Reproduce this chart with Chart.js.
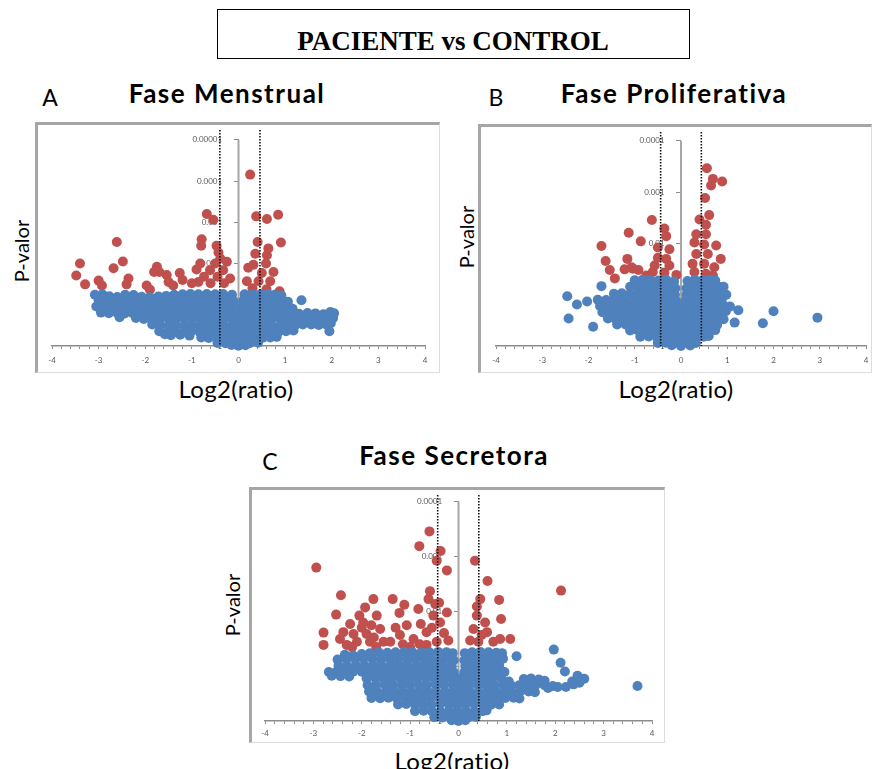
<!DOCTYPE html>
<html>
<head>
<meta charset="utf-8">
<script src="https://cdn.jsdelivr.net/npm/chart.js@4.4.1/dist/chart.umd.min.js"></script>
<style>
  html, body { margin: 0; padding: 0; background: #fff; }
  body { position: relative; width: 872px; height: 769px; overflow: hidden; font-family: Lato, "Open Sans", sans-serif; color: #000; }
  .abs { position: absolute; white-space: nowrap; line-height: 1; transform: translate(-50%, -50%); }
  .box { position: absolute; left: 217px; top: 9px; width: 471px; height: 48px; border: 1.5px solid #000; }
  .header { font: bold 27px "Liberation Serif", serif; }
  .frame { position: absolute; box-sizing: border-box; border-top: 3px solid #a6a6a6; border-left: 3px solid #a6a6a6; border-right: 1px solid #dcdcdc; border-bottom: 1px solid #dcdcdc; }
  .letter { font-size: 23px; }
  .title { font-size: 26px; font-weight: bold; letter-spacing: 1.5px; }
  .ylab { font-size: 20px; transform: translate(-50%, -50%) rotate(-90deg); }
  .xlab { font-size: 24px; letter-spacing: 0.3px; }
  canvas { position: absolute; }
</style>
</head>
<body>
<div class="box"></div>
<div class="abs header" style="left:453px;top:41px">PACIENTE vs CONTROL</div>

<div class="abs letter" style="left:50px;top:97px">A</div>
<div class="abs title" style="left:227px;top:93px">Fase Menstrual</div>
<div class="frame" style="left:35px;top:122px;width:405px;height:251px"></div>
<canvas id="menstrual" width="401" height="247" style="left:38px;top:125px"></canvas>
<div class="abs ylab" style="left:21px;top:251px">P-valor</div>
<div class="abs xlab" style="left:236px;top:389px">Log2(ratio)</div>

<div class="abs letter" style="left:496px;top:97px">B</div>
<div class="abs title" style="left:674px;top:93px">Fase Proliferativa</div>
<div class="frame" style="left:478px;top:124px;width:394px;height:249px"></div>
<canvas id="proliferativa" width="390" height="245" style="left:481px;top:127px"></canvas>
<div class="abs ylab" style="left:466px;top:237px">P-valor</div>
<div class="abs xlab" style="left:676px;top:389px">Log2(ratio)</div>

<div class="abs letter" style="left:270px;top:461px">C</div>
<div class="abs title" style="left:454px;top:455px">Fase Secretora</div>
<div class="frame" style="left:249px;top:487px;width:416px;height:256px"></div>
<canvas id="secretora" width="412" height="252" style="left:252px;top:490px"></canvas>
<div class="abs ylab" style="left:232px;top:605px">P-valor</div>
<div class="abs xlab" style="left:452px;top:761px">Log2(ratio)</div>

<script>
// x axis: log2 fold change, minor ticks every 0.2
const xRange = [-4, 4];
const xStep = 0.2;

// y axis: p-values on a reversed log axis
const menstrualTicks = [0.00001, 0.0001, 0.001, 0.01, 0.1, 1];
const menstrualTickLabels = ['0.00001', '0.0001', '0.001', '0.01', '0.1', '1'];
const proliferativaTicks = [0.0001, 0.001, 0.01, 0.1, 1];
const proliferativaTickLabels = ['0.0001', '0.001', '0.01', '0.1', '1'];
const secretoraTicks = [0.0001, 0.001, 0.01, 0.1, 1];
const secretoraTickLabels = ['0.0001', '0.001', '0.01', '0.1', '1'];

// fold-change cutoffs (dotted lines)
const menstrualCutoffs = [-0.4, 0.46];
const proliferativaCutoffs = [-0.44, 0.44];
const secretoraCutoffs = [-0.43, 0.42];

// [log2 ratio, p-value] — significant proteins (p < 0.05)
const menstrualRed = [
  [0.25,0.00007],[-0.68,0.00063],[-0.54,0.00087],[0.38,0.00072],[0.61,0.00083],[0.85,0.00066],
  [-0.79,0.0026],[-0.8,0.0037],[-0.47,0.0037],[-0.43,0.0054],[-0.39,0.0076],[0.41,0.003],[0.91,0.0031],
  [0.64,0.0043],[0.36,0.0058],[0.61,0.0063],
  [-0.82,0.01],[-0.5,0.01],[-0.25,0.0091],[-0.9,0.014],[-0.61,0.0145],[-0.33,0.0145],[-0.74,0.021],
  [-0.45,0.021],[-0.18,0.023],[-0.86,0.028],[-0.6,0.03],[-0.31,0.03],
  [0.32,0.0107],[0.59,0.01],[0.21,0.0126],[0.5,0.017],[0.75,0.016],[0.18,0.027],[0.43,0.027],
  [0.68,0.027],[0.88,0.047],[0.3,0.04],[0.6,0.042],
  [-2.61,0.003],[-3.4,0.01],[-2.48,0.0089],[-2.68,0.013],[-3.48,0.0195],[-3.29,0.032],[-3.0,0.026],
  [-2.93,0.034],[-2.36,0.023],[-2.4,0.032],
  [-1.75,0.012],[-1.7,0.016],[-1.81,0.016],[-1.54,0.019],[-1.5,0.028],[-1.97,0.034],[-1.9,0.043],
  [-1.26,0.017],[-1.2,0.025],[-1.0,0.03],[-1.4,0.034]
];

const menstrualBlue = [
  [-3.08,0.057],[-2.92,0.056],[-2.77,0.062],[-2.6,0.065],[-2.43,0.057],[-2.25,0.058],[-2.08,0.064],
  [-1.9,0.066],[-1.72,0.063],[-1.55,0.061],[-1.38,0.057],[-1.2,0.056],[-1.03,0.055],[-0.86,0.056],
  [-0.68,0.055],[-0.5,0.056],[-0.33,0.055],[-0.14,0.057],[0.13,0.056],[0.3,0.055],[0.47,0.056],
  [0.63,0.055],[0.78,0.057],[0.92,0.06],
  [-3.0,0.078],[-2.84,0.08],[-2.66,0.079],[-2.5,0.082],[-2.32,0.078],[-2.15,0.08],[-1.98,0.083],
  [-1.8,0.079],[-1.64,0.08],[-1.47,0.078],[-1.3,0.08],[-1.12,0.079],[-0.95,0.077],[-0.78,0.08],
  [-0.6,0.079],[-0.43,0.078],[-0.26,0.08],[-0.1,0.082],[0.1,0.08],[0.22,0.079],[0.4,0.078],
  [0.57,0.08],[0.74,0.079],[0.9,0.081],[1.06,0.085],[1.35,0.078],
  [-3.05,0.11],[-2.88,0.112],[-2.72,0.108],[-2.55,0.11],[-2.38,0.113],[-2.2,0.11],[-2.04,0.108],
  [-1.87,0.112],[-1.7,0.11],[-1.52,0.109],[-1.36,0.112],[-1.18,0.11],[-1.02,0.108],[-0.85,0.11],
  [-0.68,0.112],[-0.5,0.11],[-0.34,0.109],[-0.17,0.112],[0.03,0.12],[0.2,0.11],[0.36,0.108],
  [0.53,0.11],[0.7,0.112],[0.87,0.11],[1.03,0.114],[1.16,0.125],
  [-2.95,0.155],[-2.78,0.16],[-2.6,0.158],[-2.44,0.162],[-2.27,0.16],[-2.1,0.157],[-1.93,0.16],
  [-1.76,0.163],[-1.58,0.16],[-1.42,0.158],[-1.24,0.16],[-1.07,0.162],[-0.9,0.16],[-0.73,0.158],
  [-0.56,0.16],[-0.39,0.162],[-0.22,0.16],[-0.05,0.158],[0.12,0.16],[0.3,0.162],[0.46,0.16],
  [0.64,0.158],[0.8,0.16],[0.97,0.163],[1.14,0.16],[1.3,0.165],[1.48,0.158],[1.65,0.162],
  [1.82,0.17],[1.97,0.15],[2.05,0.16],
  [-2.55,0.2],[-2.2,0.21],[-2.03,0.22],[-1.85,0.218],[-1.68,0.222],[-1.5,0.22],[-1.33,0.218],
  [-1.16,0.22],[-0.98,0.223],[-0.8,0.22],[-0.63,0.218],[-0.46,0.22],[-0.3,0.222],[-0.12,0.22],
  [0.05,0.218],[0.22,0.22],[0.38,0.223],[0.56,0.22],[0.72,0.218],[0.9,0.22],[1.06,0.23],
  [1.24,0.24],[1.4,0.23],[1.58,0.22],[1.75,0.225],[1.92,0.22],[2.03,0.21],
  [-1.85,0.3],[-1.68,0.31],[-1.5,0.32],[-1.34,0.315],[-1.16,0.32],[-1.0,0.318],[-0.82,0.32],
  [-0.65,0.315],[-0.48,0.32],[-0.32,0.322],[-0.14,0.318],[0.03,0.32],[0.2,0.315],[0.37,0.32],
  [0.54,0.322],[0.7,0.318],[0.88,0.32],[1.04,0.33],[1.22,0.31],[1.38,0.3],[1.56,0.3],[1.72,0.31],
  [1.88,0.3],[1.98,0.28],
  [-1.7,0.44],[-1.52,0.45],[-1.36,0.46],[-1.18,0.45],[-1.02,0.44],[-0.84,0.45],[-0.67,0.455],
  [-0.5,0.45],[-0.33,0.44],[-0.16,0.45],[0.01,0.455],[0.18,0.45],[0.35,0.44],[0.52,0.45],
  [0.68,0.455],[0.86,0.45],[1.02,0.44],[1.18,0.42],[1.95,0.44],
  [-1.58,0.52],[-1.45,0.55],[-1.25,0.53],[-1.05,0.56],[-0.8,0.62],[-0.64,0.64],[-0.48,0.63],
  [-0.3,0.62],[-0.14,0.64],[0.04,0.63],[0.2,0.62],[0.36,0.64],[0.52,0.63],[0.68,0.62],[0.82,0.6],
  [-0.45,0.85],[-0.28,0.86],[-0.1,0.84],[0.08,0.86],[0.25,0.85],[0.42,0.83],
  [-0.15,0.95],[0.0,0.99],[0.15,0.96]
];

const proliferativaRed = [
  [0.56,0.00034],[0.69,0.00055],[0.89,0.00062],[0.65,0.00074],[0.52,0.0013],[0.4,0.0034],
  [0.61,0.0028],[0.54,0.0043],
  [-0.63,0.0035],[-0.36,0.0051],[-0.32,0.0072],[-1.13,0.0062],[-0.87,0.0091],[-1.72,0.0112],
  [-1.63,0.022],[-1.54,0.033],[-1.43,0.048],[-1.16,0.02],[-1.07,0.029],[-0.92,0.033],
  [-1.22,0.032],[-1.04,0.031],
  [-0.5,0.012],[-0.25,0.013],[-0.5,0.019],[-0.32,0.02],[-0.57,0.027],[-0.25,0.027],[-0.61,0.036],
  [-0.36,0.037],[-0.1,0.041],[-0.75,0.042],
  [0.33,0.0066],[0.54,0.0066],[0.29,0.0096],[0.5,0.0105],[0.76,0.011],[0.33,0.016],[0.58,0.016],
  [0.86,0.02],[0.25,0.025],[0.5,0.025],[0.72,0.029],[0.29,0.036],[0.54,0.039],[0.69,0.042]
];

const proliferativaBlue = [
  [-1.0,0.052],[-0.83,0.051],[-0.66,0.052],[-0.49,0.053],[-0.32,0.051],[-0.15,0.055],[0.14,0.054],
  [0.3,0.051],[0.47,0.052],[0.63,0.051],[0.74,0.053],
  [-1.72,0.068],[-1.1,0.07],[-0.93,0.072],[-0.76,0.07],[-0.58,0.071],[-0.41,0.073],[-0.24,0.07],
  [-0.12,0.075],[0.12,0.075],[0.24,0.071],[0.39,0.07],[0.56,0.072],[0.72,0.07],[0.84,0.071],[0.92,0.07],
  [-2.46,0.107],[-1.45,0.096],[-1.28,0.094],[-1.1,0.097],[-0.93,0.095],[-0.76,0.094],[-0.6,0.096],
  [-0.43,0.095],[-0.27,0.094],[-0.13,0.1],[0.12,0.1],[0.3,0.095],[0.47,0.094],[0.64,0.096],
  [0.8,0.095],[0.98,0.1],
  [-2.25,0.155],[-2.03,0.135],[-1.8,0.125],[-1.62,0.127],[-1.45,0.124],[-1.28,0.126],[-1.11,0.128],
  [-0.94,0.125],[-0.77,0.126],[-0.6,0.124],[-0.44,0.127],[-0.27,0.125],[-0.11,0.13],[0.1,0.13],
  [0.24,0.126],[0.41,0.124],[0.58,0.127],[0.75,0.125],[0.88,0.126],
  [-1.75,0.165],[-1.58,0.168],[-1.4,0.164],[-1.23,0.166],[-1.06,0.168],[-0.9,0.165],[-0.72,0.166],
  [-0.56,0.164],[-0.39,0.167],[-0.22,0.165],[-0.05,0.17],[0.12,0.166],[0.29,0.164],[0.45,0.167],
  [0.62,0.165],[0.8,0.166],[0.95,0.17],[1.06,0.17],
  [-1.7,0.22],[-1.53,0.218],[-1.36,0.222],[-1.19,0.22],[-1.02,0.218],[-0.85,0.221],[-0.68,0.22],
  [-0.51,0.219],[-0.34,0.222],[-0.17,0.22],[0.0,0.218],[0.17,0.221],[0.34,0.22],[0.51,0.218],
  [0.68,0.222],[0.85,0.22],[0.97,0.21],[1.24,0.2],[2.0,0.21],
  [-2.43,0.29],[-1.58,0.29],[-1.42,0.292],[-1.25,0.288],[-1.08,0.29],[-0.91,0.293],[-0.74,0.29],
  [-0.57,0.288],[-0.4,0.29],[-0.23,0.292],[-0.06,0.29],[0.11,0.288],[0.28,0.29],[0.45,0.292],
  [0.62,0.29],[0.79,0.288],[0.92,0.3],[1.16,0.35],[2.95,0.28],
  [-1.9,0.42],[-1.38,0.38],[-1.2,0.382],[-1.03,0.378],[-0.86,0.38],[-0.69,0.383],[-0.52,0.38],
  [-0.35,0.378],[-0.18,0.38],[-0.01,0.382],[0.16,0.38],[0.33,0.378],[0.5,0.38],[0.67,0.383],
  [0.78,0.39],[1.77,0.36],
  [-1.1,0.5],[-0.94,0.49],[-0.77,0.5],[-0.6,0.505],[-0.43,0.5],[-0.26,0.49],[-0.09,0.5],[0.08,0.505],
  [0.25,0.5],[0.42,0.49],[0.59,0.5],[0.74,0.49],
  [-0.88,0.66],[-0.7,0.65],[-0.53,0.66],[-0.36,0.67],[-0.19,0.66],[-0.02,0.65],[0.15,0.66],
  [0.32,0.67],[0.49,0.66],[0.6,0.64],
  [-0.5,0.87],[-0.33,0.86],[-0.16,0.88],[0.01,0.87],[0.18,0.86],[0.32,0.87],
  [-0.2,0.97],[0.0,1.0],[0.2,0.98]
];

const secretoraRed = [
  [-0.6,0.00035],[-0.81,0.00065],[-0.37,0.0008],[-0.45,0.0012],[-0.24,0.0018],[0.34,0.0012],
  [0.6,0.0028],[-2.94,0.0016],[2.12,0.0042],
  [-0.59,0.0043],[-0.62,0.006],[-0.48,0.0074],[0.84,0.0062],[0.45,0.006],[0.38,0.0082],
  [0.88,0.0138],[1.07,0.032],
  [-2.43,0.0051],[-2.53,0.0115],[-2.79,0.0245],[-2.79,0.041],
  [-1.76,0.006],[-1.93,0.0085],[-1.69,0.012],[-1.97,0.016],[-2.24,0.017],[-2.38,0.024],[-2.17,0.026],
  [-1.9,0.026],[-1.62,0.021],[-2.1,0.036],[-1.83,0.036],[-1.55,0.036],[-2.45,0.032],[-2.31,0.041],
  [-2.0,0.02],[-1.75,0.03],[-2.2,0.045],[-1.7,0.045],[-2.05,0.012],[-1.8,0.018],
  [-1.36,0.006],[-1.12,0.0076],[-1.22,0.0107],[-0.83,0.0091],[-0.78,0.017],[-1.07,0.018],
  [-1.21,0.027],[-0.93,0.032],[-0.66,0.024],[-0.38,0.016],[-0.24,0.0105],[-0.52,0.012],
  [-0.45,0.036],[-0.21,0.034],[-1.41,0.036],[-0.66,0.041],[-1.3,0.02],[-1.0,0.045],[-0.8,0.04],
  [-1.15,0.04],[-0.55,0.02],[-0.3,0.025],[-0.4,0.007],
  [0.38,0.012],[0.55,0.016],[0.31,0.021],[0.59,0.024],[0.72,0.036],[0.41,0.036],[0.24,0.034],
  [0.86,0.032],[0.48,0.027]
];

const secretoraBlue = [
  [-2.35,0.062],[-2.18,0.064],[-2.0,0.06],[-1.83,0.058],[-1.65,0.056],[-1.47,0.057],[-1.3,0.056],
  [-1.12,0.055],[-0.95,0.056],[-0.77,0.057],[-0.6,0.056],[-0.42,0.055],[-0.25,0.056],[-0.12,0.058],
  [0.13,0.058],[0.28,0.056],[0.45,0.055],[0.62,0.056],[0.78,0.057],[0.9,0.058],
  [-2.5,0.076],[-2.32,0.074],[-2.14,0.075],[-1.96,0.073],[-1.78,0.074],[-1.6,0.076],[-1.42,0.074],
  [-1.25,0.073],[-1.07,0.075],[-0.9,0.074],[-0.72,0.073],[-0.55,0.075],[-0.37,0.074],[-0.2,0.073],
  [-0.1,0.078],[0.12,0.078],[0.22,0.074],[0.4,0.073],[0.57,0.075],[0.74,0.074],[0.92,0.073],
  [1.2,0.066],[1.97,0.05],
  [-2.48,0.098],[-2.3,0.1],[-2.12,0.097],[-1.94,0.099],[-1.76,0.098],[-1.58,0.1],[-1.4,0.097],
  [-1.22,0.098],[-1.04,0.1],[-0.86,0.098],[-0.68,0.097],[-0.5,0.099],[-0.32,0.098],[-0.14,0.1],
  [0.14,0.1],[0.3,0.098],[0.48,0.097],[0.66,0.099],[0.84,0.098],[2.11,0.087],
  [-2.68,0.128],[-2.52,0.126],[-2.35,0.124],[-2.18,0.127],[-2.0,0.126],[-1.82,0.125],[-1.65,0.127],
  [-1.48,0.126],[-1.3,0.124],[-1.13,0.126],[-0.95,0.127],[-0.78,0.125],[-0.6,0.126],[-0.42,0.124],
  [-0.25,0.127],[-0.1,0.13],[0.12,0.13],[0.26,0.126],[0.44,0.124],[0.62,0.127],[0.8,0.126],
  [0.95,0.128],[2.2,0.125],
  [-2.62,0.15],[-2.44,0.152],[-2.26,0.155],[-1.9,0.167],[-1.72,0.165],[-1.55,0.166],[-1.38,0.164],
  [-1.2,0.167],[-1.03,0.165],[-0.86,0.166],[-0.68,0.164],[-0.5,0.167],[-0.33,0.165],[-0.16,0.166],
  [0.02,0.17],[0.18,0.166],[0.35,0.164],[0.52,0.167],[0.7,0.165],[0.88,0.166],[1.04,0.19],
  [1.35,0.172],[1.5,0.168],[1.66,0.175],[1.78,0.185],[2.35,0.19],[2.46,0.15],[2.6,0.17],
  [-1.88,0.22],[-1.7,0.222],[-1.52,0.218],[-1.35,0.22],[-1.17,0.221],[-1.0,0.219],[-0.82,0.222],
  [-0.65,0.22],[-0.47,0.218],[-0.3,0.221],[-0.12,0.22],[0.05,0.219],[0.22,0.222],[0.4,0.22],
  [0.57,0.218],[0.74,0.221],[0.92,0.22],[1.09,0.225],[1.26,0.222],[1.43,0.22],[1.6,0.218],
  [1.78,0.223],[1.95,0.23],[2.22,0.24],[2.38,0.215],[2.5,0.2],
  [-1.85,0.29],[-1.68,0.292],[-1.5,0.288],[-1.32,0.29],[-1.15,0.293],[-0.98,0.29],[-0.8,0.288],
  [-0.63,0.29],[-0.46,0.292],[-0.28,0.29],[-0.1,0.288],[0.07,0.29],[0.24,0.292],[0.42,0.29],
  [0.6,0.288],[0.77,0.29],[0.94,0.292],[1.1,0.29],[1.28,0.288],[1.45,0.29],[1.58,0.3],
  [1.85,0.25],[2.05,0.24],[3.7,0.23],
  [-1.8,0.38],[-1.62,0.385],[-1.45,0.378],[-1.28,0.38],[-1.1,0.382],[-0.93,0.378],[-0.76,0.38],
  [-0.58,0.383],[-0.4,0.38],[-0.23,0.378],[-0.06,0.38],[0.11,0.382],[0.28,0.38],[0.46,0.378],
  [0.63,0.38],[0.8,0.383],[0.97,0.38],[1.14,0.378],[1.26,0.39],
  [-1.25,0.5],[-1.08,0.49],[-0.9,0.5],[-0.73,0.505],[-0.56,0.5],[-0.38,0.49],[-0.2,0.5],
  [-0.03,0.505],[0.14,0.5],[0.32,0.49],[0.5,0.5],[0.67,0.505],[0.84,0.5],
  [-0.9,0.66],[-0.72,0.65],[-0.55,0.66],[-0.37,0.67],[-0.2,0.66],[-0.02,0.65],[0.16,0.66],
  [0.33,0.67],[0.5,0.66],[0.58,0.64],
  [-0.5,0.85],[-0.33,0.86],[-0.15,0.84],[0.02,0.85],[0.2,0.86],[0.36,0.84],
  [-0.14,0.97],[0.0,1.0],[0.14,0.97]
];

const RED = '#c0504d';
const BLUE = '#4f81bd';
const AXIS_GREY = '#a6a6a6';
const TICK_FONT = { family: 'Lato', size: 8 };
// an axis placed at x = 0 right-aligns its labels on the line itself,
// so trailing spaces keep them clear of the tick marks
const LABEL_GAP = ' '.repeat(8);

function volcano(id, p) {
  const dots = (data, color) => ({
    data, backgroundColor: color, borderColor: color, borderWidth: 0,
    pointRadius: 5, pointHoverRadius: 5, clip: false
  });
  const cutoffLines = p.cutoffs.map(c => ({
    type: 'line', showLine: true, data: [[c, p.yMin], [c, 1]],
    borderColor: '#111', borderWidth: 1.6, borderDash: [1.6, 1.4], pointRadius: 0
  }));

  new Chart(document.getElementById(id), {
    type: 'scatter',
    data: {
      // first dataset is drawn on top
      datasets: [
        ...cutoffLines,
        dots(p.blue, BLUE),
        dots(p.red, RED),
        { type: 'line', showLine: true, data: [[0, p.ticks[0]], [0, 1]],
          borderColor: AXIS_GREY, borderWidth: 2, pointRadius: 0 }
      ]
    },
    options: {
      responsive: false, animation: false, events: [],
      layout: { padding: { left: p.padL, right: p.padR, top: 0, bottom: 0 } },
      plugins: { legend: { display: false }, tooltip: { enabled: false } },
      scales: {
        x: {
          type: 'linear', min: xRange[0], max: xRange[1],
          border: { color: '#8c8c8c', width: 1.5 },
          grid: { drawOnChartArea: false, tickLength: 3, tickColor: '#8c8c8c' },
          afterFit: s => { s.height = p.xAxisH; s.paddingLeft = 0; s.paddingRight = 0; },
          ticks: {
            stepSize: xStep, autoSkip: false, maxRotation: 0, minRotation: 0,
            padding: p.xPad, color: '#595959', font: TICK_FONT,
            callback: v => Number.isInteger(v) ? String(v) : ''
          }
        },
        y: {
          type: 'logarithmic', reverse: true, min: p.yMin, max: 1,
          position: { x: 0 }, z: 1,
          border: { display: false },
          grid: { drawOnChartArea: false, tickLength: 5, tickColor: '#8c8c8c' },
          afterBuildTicks: s => { s.ticks = p.ticks.map(v => ({ value: v })); },
          afterFit: s => { s.paddingTop = 0; s.paddingBottom = 0; },
          ticks: {
            autoSkip: false, color: '#595959', font: TICK_FONT,
            callback: (v, i) => p.tickLabels[i] + LABEL_GAP
          }
        }
      }
    }
  });
}

volcano('menstrual', {
  red: menstrualRed, blue: menstrualBlue, cutoffs: menstrualCutoffs,
  ticks: menstrualTicks, tickLabels: menstrualTickLabels,
  yMin: 5.8e-6, padL: 14, padR: 14, xAxisH: 26, xPad: 7
});
volcano('proliferativa', {
  red: proliferativaRed, blue: proliferativaBlue, cutoffs: proliferativaCutoffs,
  ticks: proliferativaTicks, tickLabels: proliferativaTickLabels,
  yMin: 6.7e-5, padL: 15, padR: 4, xAxisH: 26, xPad: 7
});
volcano('secretora', {
  red: secretoraRed, blue: secretoraBlue, cutoffs: secretoraCutoffs,
  ticks: secretoraTicks, tickLabels: secretoraTickLabels,
  yMin: 7.6e-5, padL: 13, padR: 12, xAxisH: 21, xPad: 5
});
</script>
</body>
</html>
